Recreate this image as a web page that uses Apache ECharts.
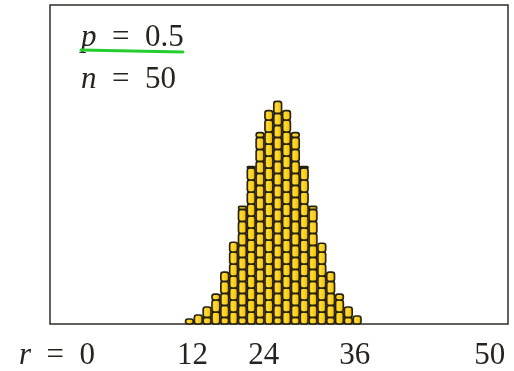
<!DOCTYPE html>
<html>
<head>
<meta charset="utf-8">
<script src="https://cdn.jsdelivr.net/npm/echarts@6/dist/echarts.min.js"></script>
<style>
  html, body { margin: 0; padding: 0; background: #fff; }
  #chart { width: 514px; height: 371px; }
</style>
</head>
<body>
<div id="chart"></div>
<script>
// Binomial distribution, p = 0.5, n = 50: number of successes r and its probability (%)
const rValues = [15, 16, 17, 18, 19, 20, 21, 22, 23, 24, 25, 26, 27, 28, 29, 30, 31, 32, 33, 34];
const probPercent = [0.25, 0.45, 0.85, 1.5, 2.6, 4.1, 5.9, 7.9, 9.6, 10.7, 11.2, 10.7, 9.6, 7.9, 5.9, 4.05, 2.6, 1.5, 0.85, 0.4];
const tickValues = [0, 12, 24, 36, 50];
const tickLabels = ['r = 0', '12', '24', '36', '50'];
const paramLines = [['p', '0.5'], ['n', '50']];

const SERIF = '"Liberation Serif", "DejaVu Serif", serif';
const INK = '#262420';

const chart = echarts.init(document.getElementById('chart'));

const brickFill = new echarts.graphic.LinearGradient(0, 0, 1, 0, [
  { offset: 0, color: '#eaa800' },
  { offset: 0.35, color: '#ffdc3a' },
  { offset: 0.7, color: '#f8c810' },
  { offset: 1, color: '#e49c00' }
]);

// each column is a stack of rounded bricks, alternate columns offset by half a brick
function renderColumn(params, api) {
  const r = api.value(0);
  const v = api.value(1);
  const base = api.coord([r, 0]);
  const top = api.coord([r, v]);
  const w = api.size([1, 0])[0];
  const x0 = base[0] - w / 2;
  const brickH = 12;
  const children = [];
  let y = base[1];
  let h = (r % 2) ? brickH * 0.55 : brickH;
  while (y - top[1] > 0.8) {
    const hh = Math.min(h, y - top[1]);
    children.push({
      type: 'rect',
      shape: { x: x0 + 0.5, y: y - hh, width: w - 1, height: hh, r: Math.min(2.5, hh / 2) },
      style: { fill: brickFill, stroke: '#24200e', lineWidth: 1.6 }
    });
    y -= hh;
    h = brickH;
  }
  return { type: 'group', children };
}

function labelFor(value) {
  const idx = tickValues.indexOf(value);
  if (idx < 0) return '';
  const text = tickLabels[idx];
  if (value === 0) return '{i|r}{t|\u2002=\u20020}';
  if (value === 12) return '{shiftR|' + text + '}';
  if (value === 24) return '{shiftS|' + text + '}';
  if (value === 36) return '{shiftL|' + text + '}';
  return '{shiftM|' + text + '}';
}

const labelBase = { fontFamily: SERIF, fontSize: 31, color: INK, lineHeight: 32 };

chart.setOption({
  animation: false,
  backgroundColor: '#fff',
  title: {
    left: 76,
    top: 12,
    text: paramLines.map(([k, v]) => '{i|' + k + '}{t|\u2002=\u2002' + v + '}').join('\n'),
    textStyle: {
      fontFamily: SERIF, fontSize: 31, fontWeight: 'normal', color: INK, lineHeight: 42,
      rich: {
        i: { fontFamily: SERIF, fontSize: 31, fontStyle: 'italic', color: INK, lineHeight: 42 },
        t: { fontFamily: SERIF, fontSize: 31, color: INK, lineHeight: 42 }
      }
    }
  },
  grid: {
    left: 50, right: 6, top: 5, bottom: 47,
    outerBoundsMode: 'none',
    containLabel: false,
    show: true, borderColor: '#2e2c28', borderWidth: 1.5, backgroundColor: '#fff'
  },
  xAxis: {
    type: 'value',
    min: -0.8,
    max: 51.1,
    axisLine: { show: false },
    axisTick: { show: false },
    splitLine: { show: false },
    axisLabel: {
      customValues: tickValues,
      margin: 16,
      formatter: labelFor,
      ...labelBase,
      rich: {
        i: { ...labelBase, fontStyle: 'italic' },
        t: { ...labelBase },
        shiftR: { ...labelBase, padding: [0, 0, 0, 59] },
        shiftS: { ...labelBase, padding: [0, 10, 0, 0] },
        shiftL: { ...labelBase, padding: [0, 40, 0, 0] },
        shiftM: { ...labelBase, padding: [0, 17, 0, 0] }
      }
    }
  },
  yAxis: {
    type: 'value',
    min: 0,
    max: 16,
    show: false
  },
  graphic: [{
    type: 'line',
    shape: { x1: 81, y1: 50, x2: 183, y2: 52 },
    style: { stroke: '#25cc30', lineWidth: 3, lineCap: 'round' },
    z: 100
  }],
  series: [{
    type: 'custom',
    renderItem: renderColumn,
    encode: { x: 0, y: 1 },
    data: rValues.map((r, i) => [r, probPercent[i]])
  }]
});
</script>
</body>
</html>
